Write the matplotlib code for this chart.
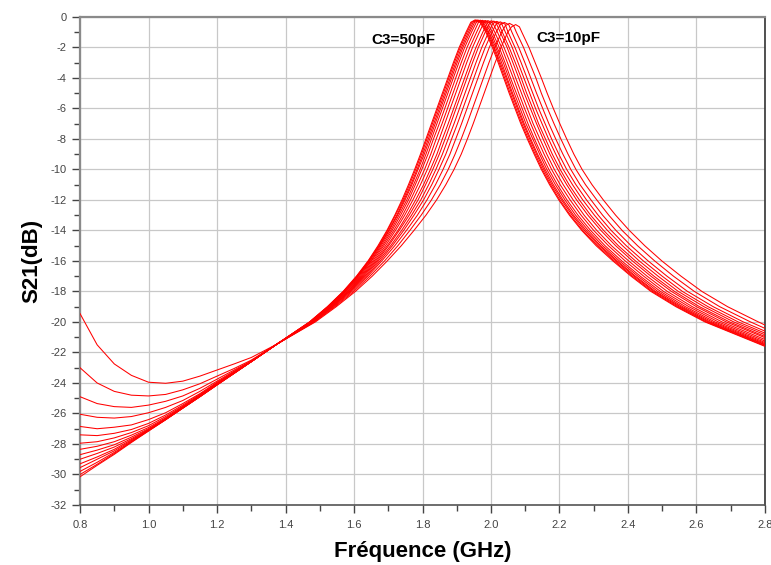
import matplotlib
matplotlib.use("Agg")
import matplotlib.pyplot as plt
import numpy as np

plt.rcParams['font.family'] = ['Liberation Sans', 'DejaVu Sans']

# C3 sweep (pF), one red curve each
c3_pf = [10, 11, 12, 13, 14, 15, 16, 18, 20, 23, 26, 30, 35, 42, 50]

# low-frequency part, S21 (dB) read at fixed frequencies
f_low = [0.80, 0.85, 0.90, 0.95, 1.00, 1.05, 1.10, 1.15, 1.20, 1.25, 1.30]
low_db = [
    [-19.45, -21.5, -22.75, -23.5, -23.95, -24.02, -23.88, -23.55, -23.15, -22.75, -22.33],
    [-23.0, -24.0, -24.55, -24.8, -24.85, -24.75, -24.45, -24.05, -23.55, -23.05, -22.5],
    [-24.9, -25.35, -25.55, -25.6, -25.45, -25.2, -24.85, -24.35, -23.75, -23.15, -22.55],
    [-26.05, -26.25, -26.3, -26.2, -25.95, -25.6, -25.15, -24.55, -23.88, -23.22, -22.57],
    [-26.85, -27.0, -26.9, -26.75, -26.4, -25.95, -25.35, -24.7, -23.95, -23.27, -22.58],
    [-27.4, -27.45, -27.3, -27.05, -26.65, -26.1, -25.45, -24.75, -24.0, -23.3, -22.6],
    [-27.95, -27.85, -27.6, -27.25, -26.8, -26.2, -25.52, -24.8, -24.03, -23.32, -22.6],
    [-28.35, -28.15, -27.85, -27.42, -26.92, -26.28, -25.56, -24.83, -24.06, -23.33, -22.6],
    [-28.7, -28.4, -28.05, -27.55, -27.0, -26.33, -25.6, -24.85, -24.08, -23.34, -22.6],
    [-29.0, -28.62, -28.2, -27.65, -27.05, -26.36, -25.62, -24.87, -24.1, -23.35, -22.6],
    [-29.3, -28.85, -28.35, -27.72, -27.08, -26.38, -25.63, -24.88, -24.1, -23.35, -22.6],
    [-29.55, -29.0, -28.45, -27.78, -27.1, -26.39, -25.64, -24.89, -24.12, -23.36, -22.6],
    [-29.8, -29.2, -28.55, -27.83, -27.12, -26.4, -25.65, -24.9, -24.12, -23.36, -22.6],
    [-30.0, -29.33, -28.62, -27.87, -27.14, -26.41, -25.65, -24.9, -24.13, -23.37, -22.6],
    [-30.15, -29.4, -28.68, -27.9, -27.15, -26.41, -25.65, -24.9, -24.13, -23.37, -22.6],
]

# common crossing point of all curves
cross_f = 1.375
cross_db = -21.45

# rising skirt: frequency (GHz) where each curve reaches each level
rise_levels = [-20, -19, -18, -17, -16, -15, -14, -13, -12, -11,
               -10, -9, -8, -7, -6, -5, -4, -3, -2, -1]
rise_f = [
    [1.487, 1.548, 1.604, 1.653, 1.697, 1.738, 1.775, 1.810, 1.841, 1.868, 1.892, 1.913, 1.931, 1.948, 1.964, 1.980, 1.996, 2.012, 2.029, 2.049],
    [1.484, 1.544, 1.599, 1.646, 1.689, 1.728, 1.763, 1.796, 1.826, 1.852, 1.875, 1.895, 1.913, 1.930, 1.946, 1.962, 1.978, 1.994, 2.011, 2.031],
    [1.482, 1.541, 1.594, 1.640, 1.681, 1.719, 1.753, 1.785, 1.813, 1.838, 1.860, 1.880, 1.897, 1.914, 1.930, 1.946, 1.962, 1.978, 1.995, 2.015],
    [1.480, 1.538, 1.590, 1.636, 1.676, 1.712, 1.745, 1.775, 1.803, 1.827, 1.848, 1.868, 1.885, 1.902, 1.918, 1.934, 1.950, 1.966, 1.983, 2.003],
    [1.479, 1.536, 1.587, 1.632, 1.671, 1.707, 1.739, 1.768, 1.795, 1.818, 1.839, 1.858, 1.875, 1.892, 1.908, 1.924, 1.940, 1.956, 1.973, 1.993],
    [1.478, 1.534, 1.585, 1.628, 1.667, 1.701, 1.732, 1.761, 1.787, 1.809, 1.830, 1.849, 1.866, 1.882, 1.898, 1.914, 1.930, 1.946, 1.963, 1.983],
    [1.477, 1.532, 1.582, 1.625, 1.663, 1.697, 1.728, 1.755, 1.780, 1.803, 1.823, 1.842, 1.858, 1.875, 1.891, 1.907, 1.923, 1.939, 1.956, 1.976],
    [1.475, 1.530, 1.580, 1.622, 1.659, 1.692, 1.721, 1.748, 1.772, 1.794, 1.814, 1.832, 1.849, 1.865, 1.881, 1.897, 1.913, 1.929, 1.946, 1.966],
    [1.474, 1.528, 1.577, 1.619, 1.655, 1.687, 1.716, 1.742, 1.765, 1.786, 1.806, 1.824, 1.840, 1.857, 1.873, 1.889, 1.905, 1.921, 1.938, 1.958],
    [1.473, 1.527, 1.575, 1.616, 1.651, 1.683, 1.711, 1.736, 1.759, 1.779, 1.798, 1.816, 1.832, 1.849, 1.865, 1.881, 1.897, 1.913, 1.930, 1.950],
    [1.472, 1.526, 1.573, 1.613, 1.649, 1.679, 1.707, 1.731, 1.754, 1.774, 1.793, 1.810, 1.826, 1.842, 1.858, 1.874, 1.890, 1.906, 1.923, 1.943],
    [1.472, 1.524, 1.571, 1.611, 1.646, 1.676, 1.703, 1.727, 1.749, 1.769, 1.787, 1.805, 1.821, 1.837, 1.853, 1.869, 1.885, 1.901, 1.918, 1.938],
    [1.471, 1.524, 1.570, 1.610, 1.644, 1.674, 1.701, 1.725, 1.746, 1.766, 1.784, 1.801, 1.817, 1.833, 1.849, 1.865, 1.881, 1.897, 1.914, 1.934],
    [1.470, 1.523, 1.569, 1.608, 1.642, 1.672, 1.698, 1.721, 1.743, 1.762, 1.780, 1.797, 1.813, 1.829, 1.845, 1.861, 1.877, 1.893, 1.910, 1.930],
    [1.470, 1.522, 1.568, 1.607, 1.641, 1.670, 1.696, 1.719, 1.740, 1.759, 1.777, 1.794, 1.810, 1.826, 1.842, 1.858, 1.874, 1.890, 1.907, 1.927],
]

# rounded top of each resonance: shoulder before, peak, shoulder after
shoulder_db = [-0.65, -0.57, -0.51, -0.47, -0.44, -0.42, -0.4, -0.39,
               -0.38, -0.37, -0.36, -0.36, -0.35, -0.35, -0.35]
shoulder_rise_f = [2.060, 2.042, 2.027, 2.015, 2.005, 1.996, 1.989, 1.979,
                   1.971, 1.963, 1.957, 1.952, 1.948, 1.944, 1.941]
peak_f = [2.072, 2.054, 2.039, 2.027, 2.017, 2.008, 2.001, 1.991, 1.983,
          1.975, 1.969, 1.964, 1.960, 1.956, 1.953]
peak_db = [-0.5, -0.42, -0.36, -0.32, -0.29, -0.27, -0.25, -0.24, -0.23,
           -0.22, -0.21, -0.21, -0.2, -0.2, -0.2]
shoulder_fall_f = [2.083, 2.066, 2.052, 2.041, 2.031, 2.022, 2.015, 2.005,
                   1.997, 1.989, 1.983, 1.978, 1.974, 1.971, 1.968]

# falling skirt: frequency (GHz) where each curve reaches each level
fall_levels = [-1, -2, -3, -4, -5, -6, -7, -8, -9, -10,
               -11, -12, -13, -14, -15, -16, -17, -18, -19, -20]
fall_f = [
    [2.090, 2.111, 2.129, 2.147, 2.164, 2.182, 2.201, 2.221, 2.242, 2.266, 2.295, 2.328, 2.364, 2.404, 2.449, 2.499, 2.555, 2.616, 2.691, 2.781],
    [2.074, 2.095, 2.113, 2.131, 2.147, 2.165, 2.184, 2.204, 2.225, 2.248, 2.276, 2.309, 2.344, 2.383, 2.428, 2.478, 2.533, 2.594, 2.668, 2.758],
    [2.061, 2.081, 2.099, 2.116, 2.133, 2.151, 2.169, 2.189, 2.210, 2.233, 2.260, 2.292, 2.326, 2.365, 2.409, 2.459, 2.514, 2.574, 2.649, 2.737],
    [2.050, 2.070, 2.088, 2.105, 2.122, 2.139, 2.158, 2.177, 2.198, 2.221, 2.248, 2.279, 2.313, 2.351, 2.395, 2.445, 2.500, 2.559, 2.634, 2.722],
    [2.042, 2.062, 2.079, 2.096, 2.113, 2.130, 2.149, 2.168, 2.189, 2.211, 2.238, 2.268, 2.302, 2.340, 2.384, 2.433, 2.488, 2.547, 2.622, 2.709],
    [2.033, 2.053, 2.071, 2.088, 2.104, 2.122, 2.139, 2.159, 2.179, 2.202, 2.228, 2.258, 2.291, 2.329, 2.372, 2.422, 2.476, 2.536, 2.609, 2.697],
    [2.027, 2.047, 2.064, 2.081, 2.097, 2.115, 2.133, 2.152, 2.172, 2.195, 2.221, 2.250, 2.283, 2.321, 2.364, 2.413, 2.467, 2.527, 2.600, 2.687],
    [2.019, 2.038, 2.056, 2.072, 2.089, 2.106, 2.123, 2.143, 2.163, 2.185, 2.211, 2.240, 2.272, 2.309, 2.352, 2.402, 2.456, 2.515, 2.588, 2.675],
    [2.011, 2.031, 2.048, 2.065, 2.081, 2.098, 2.116, 2.135, 2.155, 2.177, 2.202, 2.231, 2.263, 2.300, 2.343, 2.392, 2.446, 2.504, 2.578, 2.664],
    [2.004, 2.024, 2.041, 2.057, 2.074, 2.091, 2.108, 2.127, 2.147, 2.169, 2.194, 2.222, 2.254, 2.291, 2.333, 2.382, 2.436, 2.495, 2.568, 2.654],
    [1.999, 2.018, 2.036, 2.052, 2.068, 2.085, 2.102, 2.122, 2.142, 2.163, 2.188, 2.216, 2.247, 2.284, 2.326, 2.375, 2.429, 2.487, 2.560, 2.646],
    [1.994, 2.014, 2.031, 2.047, 2.063, 2.080, 2.097, 2.116, 2.136, 2.158, 2.182, 2.210, 2.241, 2.278, 2.320, 2.369, 2.422, 2.480, 2.554, 2.639],
    [1.991, 2.010, 2.027, 2.044, 2.060, 2.077, 2.094, 2.113, 2.133, 2.154, 2.178, 2.206, 2.237, 2.273, 2.316, 2.365, 2.418, 2.476, 2.549, 2.634],
    [1.988, 2.007, 2.024, 2.040, 2.056, 2.073, 2.090, 2.109, 2.129, 2.150, 2.174, 2.201, 2.232, 2.268, 2.311, 2.360, 2.413, 2.471, 2.544, 2.629],
    [1.985, 2.004, 2.021, 2.037, 2.053, 2.070, 2.087, 2.106, 2.126, 2.147, 2.171, 2.198, 2.229, 2.265, 2.307, 2.356, 2.409, 2.467, 2.540, 2.625],
]

# value at the right edge (2.8 GHz)
end_f = 2.8
end_db = [-20.2, -20.42, -20.6, -20.73, -20.84, -20.95, -21.03, -21.15,
          -21.25, -21.34, -21.41, -21.47, -21.51, -21.56, -21.6]

fig = plt.figure(figsize=(7.71, 5.65), dpi=100)
ax = fig.add_axes([0.1038, 0.1062, 0.8884, 0.8638])

for k in range(len(c3_pf)):
    xs = (f_low + [cross_f] + rise_f[k]
          + [shoulder_rise_f[k], peak_f[k], shoulder_fall_f[k]]
          + fall_f[k] + [end_f])
    ys = (low_db[k] + [cross_db] + rise_levels
          + [shoulder_db[k], peak_db[k], shoulder_db[k]]
          + fall_levels + [end_db[k]])
    ax.plot(xs, ys, color='red', lw=0.75, zorder=3)

ax.set_xlim(0.8, 2.8)
ax.set_ylim(-32, 0)
ax.set_xticks(np.arange(0.8, 2.81, 0.2))
ax.set_xticklabels([f"{v:.1f}" for v in np.arange(0.8, 2.81, 0.2)])
ax.set_xticks(np.arange(0.9, 2.8, 0.2), minor=True)
ax.set_yticks(np.arange(-32, 1, 2))
ax.set_yticklabels([f"{v:d}" for v in range(-32, 1, 2)])
ax.set_yticks(np.arange(-31, 0, 2), minor=True)

ax.grid(True, which='major', color='#c8c8c8', lw=0.9, zorder=0)
ax.tick_params(axis='both', which='major', labelsize=8, labelcolor='#444444',
               color='#444444', length=6, width=1)
ax.tick_params(axis='both', which='minor', color='#444444', length=4, width=1)
ax.tick_params(axis='x', pad=5)

for side in ['left', 'top']:
    ax.spines[side].set_color('#8a8a8a')
    ax.spines[side].set_linewidth(1.6)
ax.spines['bottom'].set_color('#555555')
ax.spines['bottom'].set_linewidth(1.2)
ax.spines['right'].set_color('#333333')
ax.spines['right'].set_linewidth(1.2)

ax.set_xlabel('Fréquence (GHz)', fontsize=16, fontweight='bold', labelpad=8)
ax.set_ylabel('S21(dB)', fontsize=16, fontweight='bold', labelpad=6)

ax.text(1.744, -1.5, 'C3=50pF', fontsize=11, fontweight='bold',
        ha='center', va='center')
ax.text(2.227, -1.38, 'C3=10pF', fontsize=11, fontweight='bold',
        ha='center', va='center')

fig.savefig('out.png', dpi=100)
